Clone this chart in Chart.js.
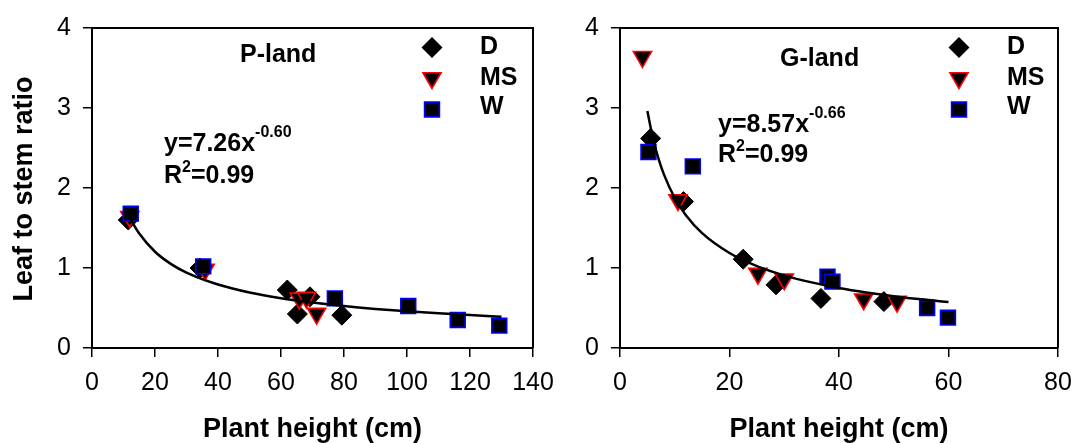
<!DOCTYPE html>
<html>
<head>
<meta charset="utf-8">
<script src="https://cdn.jsdelivr.net/npm/chart.js@4"></script>
<style>
  body { margin: 0; background: #fff; }
  .box { position: absolute; top: 0; height: 443px; }
</style>
</head>
<body>
<div class="box" style="left:0;width:560px"><canvas id="pland"></canvas></div>
<div class="box" style="left:550px;width:527px"><canvas id="gland"></canvas></div>
<script>
// P-land
const pD_x = [11.5, 34.3, 62, 69.2, 65.2, 79.3];
const pD_y = [1.6, 1.0, 0.725, 0.64, 0.425, 0.41];
const pMS_x = [12, 35.9, 65.8, 68.1, 71.3];
const pMS_y = [1.64, 0.98, 0.62, 0.63, 0.43];
const pW_x = [12.3, 35.3, 77.1, 100.4, 116.1, 129.3];
const pW_y = [1.68, 1.02, 0.62, 0.525, 0.35, 0.28];
const pFit_x = [12, 13, 15, 20, 25, 30, 40, 50, 60, 70, 80, 90, 100, 110, 120, 130];
const pFit_y = [1.635, 1.558, 1.43, 1.203, 1.052, 0.943, 0.794, 0.694, 0.622, 0.568, 0.524, 0.488, 0.458, 0.433, 0.411, 0.391];

// G-land
const gD_x = [5.6, 11.6, 22.5, 28.5, 36.7, 48.2];
const gD_y = [2.62, 1.83, 1.11, 0.79, 0.62, 0.58];
const gMS_x = [4.1, 10.6, 25.2, 30, 44.5, 50.6];
const gMS_y = [3.64, 1.85, 0.93, 0.86, 0.61, 0.58];
const gW_x = [5.2, 13.3, 37.9, 38.8, 56.1, 59.9];
const gW_y = [2.45, 2.27, 0.89, 0.83, 0.50, 0.38];
const gFit_x = [5, 6, 7, 8, 10, 12, 15, 20, 25, 30, 35, 40, 45, 50, 55, 60];
const gFit_y = [2.963, 2.626, 2.373, 2.173, 1.875, 1.663, 1.435, 1.187, 1.024, 0.908, 0.820, 0.751, 0.695, 0.648, 0.608, 0.575];

const legendNames = ['D', 'MS', 'W'];
const FONT = '"Liberation Sans", Arial, sans-serif';

function pts(xs, ys) {
  return xs.map((x, i) => ({ x: x, y: ys[i] }));
}

// small marker painter for the legend box (same shapes as the points)
function marker(ctx, kind, x, y, r) {
  ctx.save();
  ctx.beginPath();
  if (kind === 'D') {
    ctx.moveTo(x - r, y); ctx.lineTo(x, y - r); ctx.lineTo(x + r, y); ctx.lineTo(x, y + r);
    ctx.closePath();
    ctx.fillStyle = '#000'; ctx.fill();
  } else if (kind === 'MS') {
    const h = r * Math.sqrt(3) / 2;
    ctx.moveTo(x, y + r); ctx.lineTo(x - h, y - r / 2); ctx.lineTo(x + h, y - r / 2);
    ctx.closePath();
    ctx.fillStyle = '#000'; ctx.fill();
    ctx.strokeStyle = '#ff0000'; ctx.lineWidth = 1.6; ctx.stroke();
  } else {
    const s = r * Math.SQRT1_2;
    ctx.rect(x - s, y - s, 2 * s, 2 * s);
    ctx.fillStyle = '#000'; ctx.fill();
    ctx.strokeStyle = '#0000ff'; ctx.lineWidth = 1.6; ctx.stroke();
  }
  ctx.restore();
}

function makeChart(id, c) {
  const notes = {
    id: 'notes_' + id,
    afterDraw(chart) {
      const ctx = chart.ctx;
      const a = chart.chartArea;
      ctx.save();
      // box top + right
      ctx.strokeStyle = '#000';
      ctx.lineWidth = 2;
      ctx.beginPath();
      ctx.moveTo(a.left, a.top); ctx.lineTo(a.right, a.top); ctx.lineTo(a.right, a.bottom);
      ctx.stroke();

      ctx.fillStyle = '#000';
      ctx.textBaseline = 'alphabetic';
      // panel name
      ctx.font = 'bold 25px ' + FONT;
      ctx.fillText(c.name, c.nameX, c.nameY);
      // equation
      ctx.fillText(c.eqBase, c.eqX, c.eqY);
      let w = ctx.measureText(c.eqBase).width;
      ctx.font = 'bold 16px ' + FONT;
      ctx.fillText(c.eqSup, c.eqX + w, c.eqSupY);
      // R squared
      ctx.font = 'bold 25px ' + FONT;
      ctx.fillText('R', c.eqX, c.rY);
      w = ctx.measureText('R').width;
      ctx.font = 'bold 16px ' + FONT;
      ctx.fillText('2', c.eqX + w, c.rSupY);
      const w2 = ctx.measureText('2').width;
      ctx.font = 'bold 25px ' + FONT;
      ctx.fillText('=0.99', c.eqX + w + w2, c.rY);

      // legend
      const ly = [47.5, 78, 109.5];
      const ty = [54, 84.5, 114];
      legendNames.forEach((n, i) => {
        marker(ctx, n, c.legX, ly[i], 10.5);
        ctx.fillStyle = '#000';
        ctx.font = 'bold 25px ' + FONT;
        ctx.fillText(n, c.legX + 48, ty[i]);
      });

      // axis titles
      ctx.font = 'bold 27px ' + FONT;
      ctx.textAlign = 'center';
      ctx.fillText('Plant height (cm)', (a.left + a.right) / 2, 437);
      if (c.yTitle) {
        ctx.translate(32, 189);
        ctx.rotate(-Math.PI / 2);
        ctx.fillText('Leaf to stem ratio', 0, 0);
      }
      ctx.restore();
    }
  };

  return new Chart(document.getElementById(id), {
    type: 'scatter',
    data: {
      datasets: [
        {
          label: 'fit', data: pts(c.fx, c.fy), showLine: true,
          borderColor: '#000', borderWidth: 2.5, pointRadius: 0,
          cubicInterpolationMode: 'monotone', order: 0
        },
        {
          label: 'W', data: pts(c.wx, c.wy), pointStyle: 'rect', pointRadius: 10.5,
          backgroundColor: '#000', borderColor: '#0000ff', borderWidth: 1.6, order: 1
        },
        {
          label: 'MS', data: pts(c.mx, c.my), pointStyle: 'triangle', rotation: 180, pointRadius: 10.5,
          backgroundColor: '#000', borderColor: '#ff0000', borderWidth: 1.6, order: 2
        },
        {
          label: 'D', data: pts(c.dx, c.dy), pointStyle: 'rectRot', pointRadius: 10,
          backgroundColor: '#000', borderColor: '#000', borderWidth: 1, order: 3
        }
      ]
    },
    options: {
      responsive: true,
      maintainAspectRatio: false,
      animation: false,
      events: [],
      layout: { padding: { top: 28, right: c.padRight, left: 0, bottom: 0 } },
      scales: {
        x: {
          type: 'linear', min: 0, max: c.xMax,
          afterFit: s => { s.height = 95; s.paddingLeft = 0; s.paddingRight = 0; },
          border: { display: true, color: '#000', width: 2 },
          grid: { drawOnChartArea: false, drawTicks: true, tickLength: 9, color: '#000', lineWidth: 1.5 },
          ticks: { stepSize: 20, color: '#000', padding: 11, font: { size: 25, family: FONT } }
        },
        y: {
          type: 'linear', min: 0, max: 4,
          afterFit: s => { s.width = c.yWidth; s.paddingTop = 0; s.paddingBottom = 0; },
          border: { display: true, color: '#000', width: 2 },
          grid: { drawOnChartArea: false, drawTicks: true, tickLength: 9, color: '#000', lineWidth: 1.5 },
          ticks: { stepSize: 1, color: '#000', padding: 12, font: { size: 25, family: FONT } }
        }
      },
      plugins: { legend: { display: false }, tooltip: { enabled: false } }
    },
    plugins: [notes]
  });
}

makeChart('pland', {
  dx: pD_x, dy: pD_y, mx: pMS_x, my: pMS_y, wx: pW_x, wy: pW_y, fx: pFit_x, fy: pFit_y,
  xMax: 140, yWidth: 92, padRight: 27, yTitle: true,
  name: 'P-land', nameX: 240, nameY: 62,
  eqBase: 'y=7.26x', eqSup: '-0.60', eqX: 164, eqY: 151, eqSupY: 137,
  rY: 183, rSupY: 172, legX: 432
});

makeChart('gland', {
  dx: gD_x, dy: gD_y, mx: gMS_x, my: gMS_y, wx: gW_x, wy: gW_y, fx: gFit_x, fy: gFit_y,
  xMax: 80, yWidth: 70, padRight: 19, yTitle: false,
  name: 'G-land', nameX: 230, nameY: 66,
  eqBase: 'y=8.57x', eqSup: '-0.66', eqX: 168, eqY: 132, eqSupY: 118,
  rY: 162, rSupY: 151, legX: 409
});
</script>
</body>
</html>
